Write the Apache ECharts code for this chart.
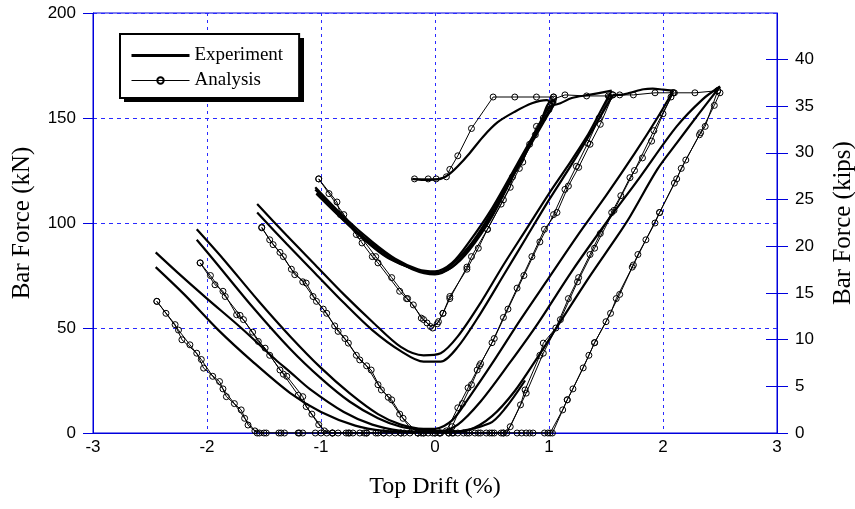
<!doctype html>
<html lang="en">
<head>
<meta charset="UTF-8">
<title>Bar Force vs Top Drift</title>
<style>
  html, body { margin: 0; padding: 0; background: #fff; }
  #main { width: 855px; height: 509px; }
</style>
</head>
<body>
<div id="main"></div>
<script src="https://cdn.jsdelivr.net/npm/echarts@6/dist/echarts.min.js"></script>
<script>
// ---- data: [top drift (%), bar force (kN)] ----
// experiment, branch by branch along the loading path
var expInitial = [[-0.2,121],[-0.1,120.5],[0.05,121],[0.12,123],[0.2,127],[0.3,133],[0.42,141],[0.55,148],[0.7,153],[0.85,157],[0.98,158.5],[1.04,156]];
var expV1Down  = [[1.04,156],[0.9,145],[0.72,128],[0.5,107],[0.3,91],[0.15,81],[0,77],[-0.15,78],[-0.35,83],[-0.55,91],[-0.8,103],[-1.05,117]];
var expV1Up    = [[-1.05,116],[-0.8,102],[-0.55,89],[-0.3,80.5],[0,76],[0.15,79],[0.3,88],[0.5,104],[0.72,126],[0.9,144],[1.02,158],[1.06,158]];
var expV1Down2 = [[1.06,158],[0.9,143],[0.7,124],[0.5,103],[0.3,87],[0.15,79],[0,75.5],[-0.2,78],[-0.45,86],[-0.75,99],[-1.04,114]];
var expV1Up2   = [[-1.04,114],[-0.7,96],[-0.4,83],[0,76],[0.3,89],[0.6,115],[0.85,140],[1.0,155],[1.1,157],[1.2,159.5],[1.35,161],[1.55,163]];
var expV2Down  = [[1.55,163],[1.45,153],[1.33,141],[1.15,126],[1.0,114],[0.8,97],[0.6,80],[0.4,62],[0.2,46],[0.05,38],[-0.1,37],[-0.3,41],[-0.55,53],[-0.8,66],[-1.05,80],[-1.3,94],[-1.56,109]];
var expV2Up    = [[-1.56,105],[-1.3,90],[-1.05,76],[-0.8,62],[-0.55,49],[-0.3,39],[-0.1,34],[0.05,34],[0.2,41],[0.4,57],[0.6,75],[0.8,93],[1.0,111],[1.2,128],[1.4,146],[1.56,161]];
var expTop2    = [[1.56,161],[1.62,161],[1.71,162],[1.83,163.7],[1.91,164],[2.0,163.5],[2.09,163]];
var expV3Down  = [[2.09,163],[1.95,150],[1.75,133],[1.5,113],[1.25,94],[1.0,74],[0.75,54],[0.5,33],[0.3,17],[0.15,6],[0,2],[-0.1,2],[-0.3,4],[-0.5,9],[-0.75,19],[-1.0,31],[-1.27,46],[-1.55,63],[-1.86,83],[-2.09,97]];
var expV3Up    = [[-2.09,92],[-1.95,83],[-1.6,60],[-1.27,40],[-1.0,26],[-0.75,15],[-0.5,7],[-0.3,3],[-0.1,1.5],[0.05,1],[0.2,4],[0.4,15],[0.65,33],[0.9,52],[1.2,77],[1.5,100],[1.8,122],[2.12,146],[2.35,159],[2.5,165]];
var expV4Down  = [[2.5,165],[2.3,151],[2.12,138],[1.95,125.5],[1.71,103],[1.59,93],[1.35,74],[1.1,53],[0.9,36],[0.7,20],[0.5,8],[0.3,1.5],[0.1,0.5],[-0.1,0.5],[-0.3,1],[-0.55,4],[-0.8,10],[-1.1,21],[-1.27,29],[-1.4,35],[-1.7,50],[-2.0,64],[-2.25,76],[-2.45,86]];
var expV4Up    = [[-2.45,79],[-2.2,66],[-1.9,49],[-1.6,34],[-1.27,19],[-1.0,10],[-0.7,3.5],[-0.45,1],[-0.2,0.5],[0.13,0.5],[0.48,4.6],[0.62,12],[0.79,25]];

// analysis (every point carries a circle)
var anaInitial = [[-0.18,121],[-0.06,121],[0.01,121],[0.1,122],[0.13,125.5],[0.2,132],[0.32,145],[0.51,160],[0.7,160],[0.89,160],[1.04,160]];
var anaV1Down  = [[1.04,160],[0.95,150],[0.89,146],[0.83,137.5],[0.77,129],[0.68,122],[0.66,117],[0.58,109],[0.46,97],[0.38,88],[0.28,78],[0.13,65],[0.07,57],[0.02,52],[-0.04,50.7],[-0.07,52.4],[-0.12,54.7],[-0.19,61],[-0.25,64],[-0.31,67.5],[-0.5,81],[-0.55,84],[-0.64,90.5],[-0.69,94.5],[-0.83,104],[-0.86,110],[-1.02,121]];
var anaV1Up    = [[-1.02,121],[-0.93,114],[-0.8,104],[-0.66,94],[-0.52,84],[-0.38,74],[-0.24,64],[-0.1,54],[-0.02,50],[0.03,53],[0.07,57],[0.13,64],[0.28,79],[0.32,84],[0.46,97],[0.6,111],[0.74,126],[0.88,142],[1.0,154],[1.04,159],[1.14,161],[1.33,160.5],[1.52,160.5],[1.56,161]];
var anaV2Down  = [[1.56,161],[1.45,147],[1.36,137.5],[1.26,126.5],[1.17,117.6],[1.07,105],[0.96,97],[0.85,84],[0.72,69],[0.6,55],[0.5,43],[0.39,32],[0.37,30],[0.29,21.5],[0.2,12],[0.1,1],[0.04,0],[-0.06,0],[-0.15,0],[-0.28,7],[-0.38,15.8],[-0.47,20.5],[-0.56,30],[-0.66,34.8],[-0.76,42.8],[-0.85,48.4],[-0.95,57],[-1.04,62.7],[-1.13,71.4],[-1.23,75.4],[-1.33,84],[-1.42,89.7],[-1.52,97.7]];
var anaV2Up    = [[-1.52,98],[-1.45,92],[-1.36,86],[-1.26,78],[-1.16,72],[-1.07,65],[-0.98,59],[-0.88,51],[-0.79,45],[-0.69,37],[-0.6,32],[-0.5,23],[-0.41,17],[-0.31,9],[-0.2,1],[-0.12,0],[0,0],[0.12,0],[0.15,3],[0.24,14],[0.32,23],[0.4,33],[0.52,45],[0.64,59],[0.78,75],[0.92,91],[1.04,104],[1.14,116],[1.24,127],[1.34,138],[1.44,150],[1.53,160],[1.62,161],[1.74,161],[1.93,162],[2.09,162]];
var anaV3Down  = [[2.09,162],[2.0,152],[1.9,139],[1.82,131],[1.71,121.6],[1.63,113],[1.55,105],[1.45,95],[1.36,85],[1.26,74],[1.17,64],[1.06,50],[0.95,42.8],[0.92,37],[0.79,20.5],[0.75,13.4],[0.63,0],[0.5,0],[0.38,0],[0.25,0],[0.12,0],[-0.02,0],[-0.15,0],[-0.3,0],[-0.45,0],[-0.6,0],[-0.72,0],[-0.85,0],[-0.95,0],[-1.02,4],[-1.13,12.6],[-1.16,17.3],[-1.3,27],[-1.36,30],[-1.49,40.4],[-1.55,43.6],[-1.68,54],[-1.74,56.3],[-1.86,67.5],[-1.93,70.6],[-2.06,81]];
var anaV3Up    = [[-2.06,81],[-1.97,75],[-1.84,65],[-1.71,56],[-1.6,48],[-1.45,37],[-1.33,28],[-1.2,18],[-1.08,9],[-0.97,1],[-0.9,0],[-0.78,0],[-0.66,0],[-0.52,0],[-0.4,0],[-0.27,0],[-0.1,0],[0.05,0],[0.2,0],[0.35,0],[0.48,0],[0.6,0],[0.66,3],[0.8,19],[0.95,38],[1.1,54],[1.25,72],[1.4,88],[1.57,106],[1.75,125],[1.92,144],[2.07,160],[2.1,162],[2.28,162],[2.48,163]];
var anaV4Down  = [[2.48,163],[2.37,146],[2.32,142],[2.16,126],[2.12,121],[1.97,105],[1.93,100],[1.78,85],[1.73,79],[1.59,64],[1.54,57],[1.4,43],[1.35,37],[1.21,21],[1.16,15.8],[1.03,0],[0.99,0],[0.83,0],[0.8,0],[0.76,0],[0.6,0],[0.52,0],[0.4,0],[0.28,0],[0.16,0],[0.04,0],[-0.1,0],[-0.22,0],[-0.35,0],[-0.5,0],[-0.62,0],[-0.76,0],[-0.9,0],[-1.0,0],[-1.16,0],[-1.19,0],[-1.32,0],[-1.37,0],[-1.48,0],[-1.54,0],[-1.56,0],[-1.64,3.8],[-1.7,11],[-1.83,17.3],[-1.89,24.5],[-2.03,30.9],[-2.09,38],[-2.22,44.4],[-2.28,51.6],[-2.44,62.7]];
var anaV4Up    = [[-2.44,62.7],[-2.36,57],[-2.25,49],[-2.15,42],[-2.05,35],[-1.95,27],[-1.86,21],[-1.76,14],[-1.67,7],[-1.58,1],[-1.5,0],[-1.35,0],[-1.2,0],[-1.05,0],[-0.9,0],[-0.75,0],[-0.6,0],[-0.45,0],[-0.3,0],[-0.15,0],[0,0],[0.15,0],[0.3,0],[0.45,0],[0.58,0],[0.72,0],[0.86,0],[0.96,0],[1.01,0],[1.12,11],[1.16,15.8],[1.3,31],[1.4,43],[1.5,53],[1.62,66],[1.74,80],[1.85,92],[1.97,105],[2.1,119],[2.2,130],[2.33,143],[2.45,156],[2.5,162]];

// axes
var driftTicks = [-3, -2, -1, 0, 1, 2, 3];
var kipsTicks = [0, 5, 10, 15, 20, 25, 30, 35, 40];
var kNPerKip = 4.448;

var expBranches = [expInitial, expV1Down, expV1Up, expV1Down2, expV1Up2, expV2Down, expV2Up, expTop2, expV3Down, expV3Up, expV4Down, expV4Up];
var anaBranches = [anaInitial, anaV1Down, anaV1Up, anaV2Down, anaV2Up, anaV3Down, anaV3Up, anaV4Down, anaV4Up];

var blue = '#0000dd';
var gridBlue = '#2a2aff';
var serif = 'Liberation Serif';
var sans = 'Liberation Sans';

var myChart = echarts.init(document.getElementById('main'));

var series = [];
expBranches.forEach(function (d) {
    series.push({
        name: 'Experiment', type: 'line', data: d,
        yAxisIndex: 0, smooth: 0.3, symbol: 'none',
        lineStyle: { color: '#000', width: 2.2 },
        itemStyle: { color: '#000' }
    });
});
anaBranches.forEach(function (d) {
    series.push({
        name: 'Analysis', type: 'line', data: d,
        yAxisIndex: 0, symbol: 'circle', symbolSize: 6,
        lineStyle: { color: '#000', width: 1 },
        itemStyle: { color: 'rgba(0,0,0,0)', borderColor: '#000', borderWidth: 1 }
    });
});

var option = {
    animation: false,
    backgroundColor: '#fff',
    grid: {
        left: 93, right: 78, top: 13, bottom: 76,
        outerBoundsMode: 'none', containLabel: false,
        show: true, borderColor: blue, borderWidth: 1
    },
    // solid drop shadow behind the legend box
    graphic: [{
        type: 'rect', z: 5,
        shape: { x: 124, y: 38, width: 180, height: 64 },
        style: { fill: '#000' }
    }],
    legend: {
        data: [
            { name: 'Experiment', itemStyle: { opacity: 0 }, lineStyle: { width: 3, color: '#000' } },
            { name: 'Analysis', lineStyle: { width: 1, color: '#000' } }
        ],
        orient: 'vertical',
        left: 120, top: 34, z: 10,
        itemWidth: 58, itemHeight: 8, itemGap: 6,
        padding: [12, 16, 8, 10],
        backgroundColor: '#fff',
        borderColor: '#000', borderWidth: 2,
        textStyle: { fontFamily: serif, fontSize: 19, color: '#000' }
    },
    xAxis: {
        type: 'value', min: -3, max: 3, interval: 1,
        name: 'Top Drift (%)', nameLocation: 'middle', nameGap: 42,
        nameTextStyle: { fontFamily: serif, fontSize: 24, color: '#000' },
        axisLine: { onZero: false, lineStyle: { color: blue, width: 1 } },
        axisTick: { show: false },
        axisLabel: { customValues: driftTicks, fontFamily: sans, fontSize: 17, color: '#000', margin: 6 },
        splitLine: { show: true, lineStyle: { color: gridBlue, type: [3, 4], width: 1 } }
    },
    yAxis: [{
        type: 'value', min: 0, max: 200, interval: 50, position: 'left',
        name: 'Bar Force (kN)', nameLocation: 'middle', nameGap: 58, nameRotate: 90,
        nameTextStyle: { fontFamily: serif, fontSize: 25, color: '#000' },
        axisLine: { show: true, onZero: false, lineStyle: { color: blue, width: 1 } },
        axisTick: { show: true, length: 10, lineStyle: { color: blue } },
        axisLabel: { fontFamily: sans, fontSize: 17, color: '#000', margin: 17 },
        splitLine: { show: true, lineStyle: { color: gridBlue, type: [4, 4], width: 1 } }
    }, {
        type: 'value', min: 0, max: 200 / kNPerKip, position: 'right',
        name: 'Bar Force (kips)', nameLocation: 'middle', nameGap: 54, nameRotate: 90,
        nameTextStyle: { fontFamily: serif, fontSize: 25, color: '#000' },
        axisLine: { show: true, onZero: false, lineStyle: { color: blue, width: 1 } },
        axisTick: { show: true, length: 11, customValues: kipsTicks, lineStyle: { color: blue } },
        axisLabel: { customValues: kipsTicks, fontFamily: sans, fontSize: 17, color: '#000', margin: 18 },
        splitLine: { show: false }
    }, {
        type: 'value', min: 0, max: 200 / kNPerKip, position: 'right',
        axisLine: { show: false, onZero: false },
        axisTick: { show: true, inside: true, length: 11, customValues: kipsTicks, lineStyle: { color: blue } },
        axisLabel: { show: false },
        splitLine: { show: false }
    }],
    series: series
};
myChart.setOption(option);
</script>
</body>
</html>
